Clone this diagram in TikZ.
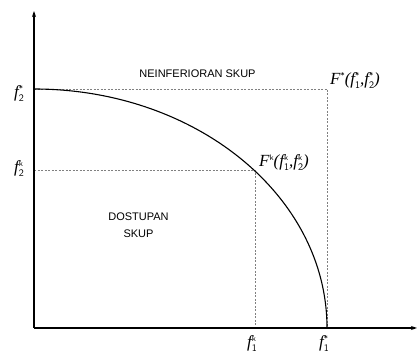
\documentclass[tikz,border=0pt]{standalone}
\usepackage{fontspec}
\setmainfont{Liberation Sans}
\newfontfamily\mfont{Liberation Serif}
\usetikzlibrary{arrows.meta}
% big italic letter with stacked sub/superscript
\newcommand\subsize{\fontsize{10}{10}\selectfont\upshape\sffamily}
\newcommand\supsize{\fontsize{8}{8}\selectfont\upshape\sffamily}
\newcommand\fl[3]{{\mfont\itshape #1}\rlap{\raisebox{6.5pt}{\supsize #3}}\raisebox{-3.5pt}{\subsize #2}}
\newcommand\Fl[2]{{\mfont\itshape #1}\raisebox{6.5pt}{\supsize #2}}
\newcommand\pl[1]{{\mfont\itshape #1}}
\tikzset{
  axis/.style={line width=1.1pt,-{Stealth[length=6pt,width=4pt]}},
  guide/.style={gray,dash pattern=on 2pt off 1.5pt,line width=0.5pt},
  frontier/.style={line width=1.1pt},
  lbl/.style={font=\fontsize{11}{17}\selectfont,inner sep=0pt},
  mlbl/.style={font=\fontsize{17}{19}\selectfont,inner sep=0pt}
}
\begin{document}
\begin{tikzpicture}[x=1pt,y=1pt]
\useasboundingbox (0,0) rectangle (418,353);
\coordinate (O) at (34,25);
\coordinate (ytop) at (34,342);
\coordinate (xend) at (417,25);
\coordinate (f2s) at (34,264);
\coordinate (f2k) at (34,183);
\coordinate (Fs) at (327,264);
\coordinate (f1s) at (327,25);
\coordinate (Fk) at (255,183);
\coordinate (f1k) at (255,25);
% guides
\draw[guide] (f2s) -- (Fs) -- (f1s);
\draw[guide] (f2k) -- (Fk) -- (f1k);
% frontier
\draw[frontier] (f2s) arc[start angle=90,end angle=0,x radius=293,y radius=239];
% axes
\draw[axis] (O) -- (ytop);
\draw[axis] (O) -- (xend);
% labels
\node[lbl,anchor=base] (neinf) at (197.5,275) {NEINFERIORAN SKUP};
\node[lbl,align=center,anchor=base] (dost) at (138.5,115) {DOSTUPAN\\SKUP};
\node[mlbl,anchor=base west] (Fslbl) at (330,268) {\Fl{F}{*}\pl{(}\fl{f}{1}{*}\pl{,}\fl{f}{2}{*}\pl{)}};
\node[mlbl,anchor=base west] (Fklbl) at (259,186) {\Fl{F}{k}\pl{(}\fl{f}{1}{k}\pl{,}\fl{f}{2}{k}\pl{)}};
\node[mlbl,anchor=base] (f2slbl) at (19,255) {\fl{f}{2}{*}};
\node[mlbl,anchor=base] (f2klbl) at (19,180) {\fl{f}{2}{k}};
\node[mlbl,anchor=base] (f1klbl) at (252,5) {\fl{f}{1}{k}};
\node[mlbl,anchor=base] (f1slbl) at (324,5) {\fl{f}{1}{*}};
\end{tikzpicture}
\end{document}
